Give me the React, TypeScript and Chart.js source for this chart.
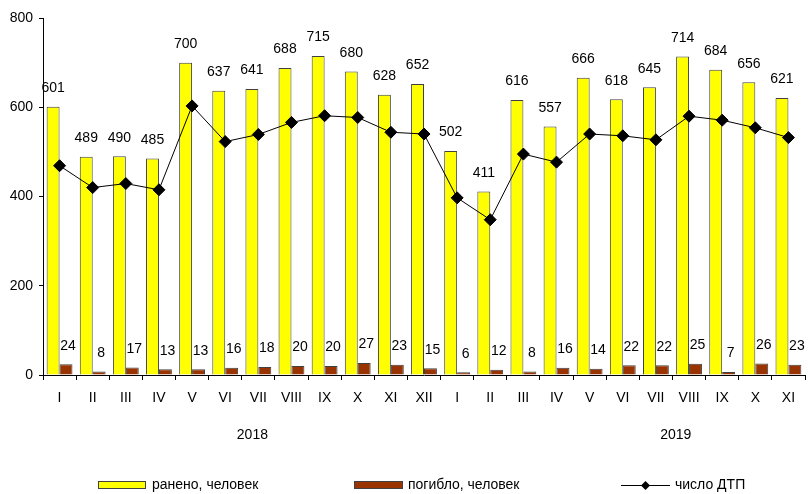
import React, { useEffect, useRef } from "react";
import { Chart, registerables } from "chart.js";

Chart.register(...registerables);

const MONTHS = ["I", "II", "III", "IV", "V", "VI", "VII", "VIII", "IX", "X", "XI", "XII", "I", "II", "III", "IV", "V", "VI", "VII", "VIII", "IX", "X", "XI"];
const INJURED = [601, 489, 490, 485, 700, 637, 641, 688, 715, 680, 628, 652, 502, 411, 616, 557, 666, 618, 645, 714, 684, 656, 621];
const KILLED = [24, 8, 17, 13, 13, 16, 18, 20, 20, 27, 23, 15, 6, 12, 8, 16, 14, 22, 22, 25, 7, 26, 23];
const ACCIDENTS = [469, 420, 429, 415, 603, 523, 539, 566, 581, 577, 544, 540, 397, 348, 495, 477, 540, 536, 527, 580, 571, 554, 532];
const YEARS = ["2018", "2019"];
const YEAR_POS = [6.32, 19.1]; // in category units from the left edge
const SERIES_NAMES = ["ранено, человек", "погибло, человек", "число ДТП"];
const Y_TICKS_MAX = 800;
const Y_STEP = 200;

const FONT = "'Liberation Sans', Arial, sans-serif";
const YELLOW = "#FFFF00";
const BROWN = "#993300";
const EDGE = "#404040";

const labelsPlugin = {
  id: "customLabels",
  afterDatasetsDraw(chart: any) {
    const ctx = chart.ctx;
    ctx.save();
    ctx.font = `14px ${FONT}`;
    ctx.fillStyle = "#000";
    ctx.textAlign = "center";
    ctx.textBaseline = "middle";
    [0, 1].forEach((di) => {
      const meta = chart.getDatasetMeta(di);
      const data = chart.data.datasets[di].data;
      meta.data.forEach((el: any, i: number) => {
        ctx.fillText(String(data[i]), el.x + (di === 1 ? 2 : 0), el.y - 18.5);
      });
    });
    ctx.restore();
  },
  afterDraw(chart: any) {
    const ctx = chart.ctx;
    const xs = chart.scales.x;
    const cw = (xs.right - xs.left) / MONTHS.length;
    ctx.save();
    ctx.font = `14px ${FONT}`;
    ctx.fillStyle = "#000";
    ctx.textAlign = "center";
    ctx.textBaseline = "middle";
    YEARS.forEach((y, i) => {
      ctx.fillText(y, xs.left + YEAR_POS[i] * cw, 435);
    });
    // legend
    ctx.textAlign = "left";
    ctx.textBaseline = "alphabetic";
    ctx.lineWidth = 1;
    ctx.fillStyle = YELLOW;
    ctx.fillRect(98, 481, 48, 8);
    ctx.strokeStyle = EDGE;
    ctx.strokeRect(98.5, 481.5, 47, 7);
    ctx.fillStyle = "#000";
    ctx.fillText(SERIES_NAMES[0], 152, 489);
    ctx.fillStyle = BROWN;
    ctx.fillRect(354, 481, 49, 8);
    ctx.strokeStyle = EDGE;
    ctx.strokeRect(354.5, 481.5, 48, 7);
    ctx.fillStyle = "#000";
    ctx.fillText(SERIES_NAMES[1], 408, 489);
    ctx.strokeStyle = "#000";
    ctx.beginPath();
    ctx.moveTo(621, 485.5);
    ctx.lineTo(670, 485.5);
    ctx.stroke();
    ctx.beginPath();
    const cx = 645.5, cy = 485.5, r = 4.5;
    ctx.moveTo(cx, cy - r);
    ctx.lineTo(cx + r, cy);
    ctx.lineTo(cx, cy + r);
    ctx.lineTo(cx - r, cy);
    ctx.closePath();
    ctx.fillStyle = "#000";
    ctx.fill();
    ctx.fillText(SERIES_NAMES[2], 675, 489);
    ctx.restore();
  },
};

export default function App() {
  const ref = useRef<HTMLCanvasElement>(null);
  useEffect(() => {
    if (!ref.current) return;
    const chart = new Chart(ref.current, {
      type: "bar",
      data: {
        labels: MONTHS,
        datasets: [
          {
            type: "bar",
            label: SERIES_NAMES[0],
            data: INJURED,
            backgroundColor: YELLOW,
            borderColor: EDGE,
            borderWidth: 1,
            categoryPercentage: 0.78,
            barPercentage: 1,
            order: 2,
          },
          {
            type: "bar",
            label: SERIES_NAMES[1],
            data: KILLED,
            backgroundColor: BROWN,
            borderColor: EDGE,
            borderWidth: 1,
            categoryPercentage: 0.78,
            barPercentage: 1,
            order: 2,
          },
          {
            type: "line",
            label: SERIES_NAMES[2],
            data: ACCIDENTS,
            borderColor: "#000",
            borderWidth: 1,
            tension: 0,
            pointStyle: "rectRot",
            pointRadius: 6,
            pointBackgroundColor: "#000",
            pointBorderColor: "#000",
            order: 1,
          } as any,
        ],
      },
      options: {
        animation: false,
        responsive: false,
        devicePixelRatio: 1,
        layout: { padding: { top: 18, right: 1, left: 0, bottom: 0 } },
        plugins: {
          legend: { display: false },
          tooltip: { enabled: false },
          title: { display: false },
        },
        scales: {
          x: {
            type: "category",
            offset: true,
            grid: {
              offset: true,
              drawOnChartArea: false,
              drawTicks: true,
              tickLength: 5,
              color: "#000",
            },
            border: { display: true, color: "#000", width: 1 },
            ticks: {
              font: { family: FONT, size: 14 },
              color: "#000",
              padding: 10,
              maxRotation: 0,
              autoSkip: false,
            },
            afterFit(scale: any) {
              scale.height = 119;
            },
          },
          y: {
            min: 0,
            max: Y_TICKS_MAX,
            ticks: {
              stepSize: Y_STEP,
              font: { family: FONT, size: 14 },
              color: "#000",
              padding: 6,
            },
            grid: {
              drawOnChartArea: false,
              drawTicks: true,
              tickLength: 4,
              color: "#000",
            },
            border: { display: true, color: "#000", width: 1 },
            afterFit(scale: any) {
              scale.width = 43;
            },
          },
        },
      },
      plugins: [labelsPlugin],
    });
    return () => chart.destroy();
  }, []);
  return (
    <div
      style={{
        position: "fixed",
        left: 0,
        top: 0,
        width: 808,
        height: 494,
        overflow: "hidden",
        background: "#fff",
      }}
    >
      <canvas ref={ref} width={812} height={494} style={{ display: "block", width: 812, height: 494 }} />
    </div>
  );
}
